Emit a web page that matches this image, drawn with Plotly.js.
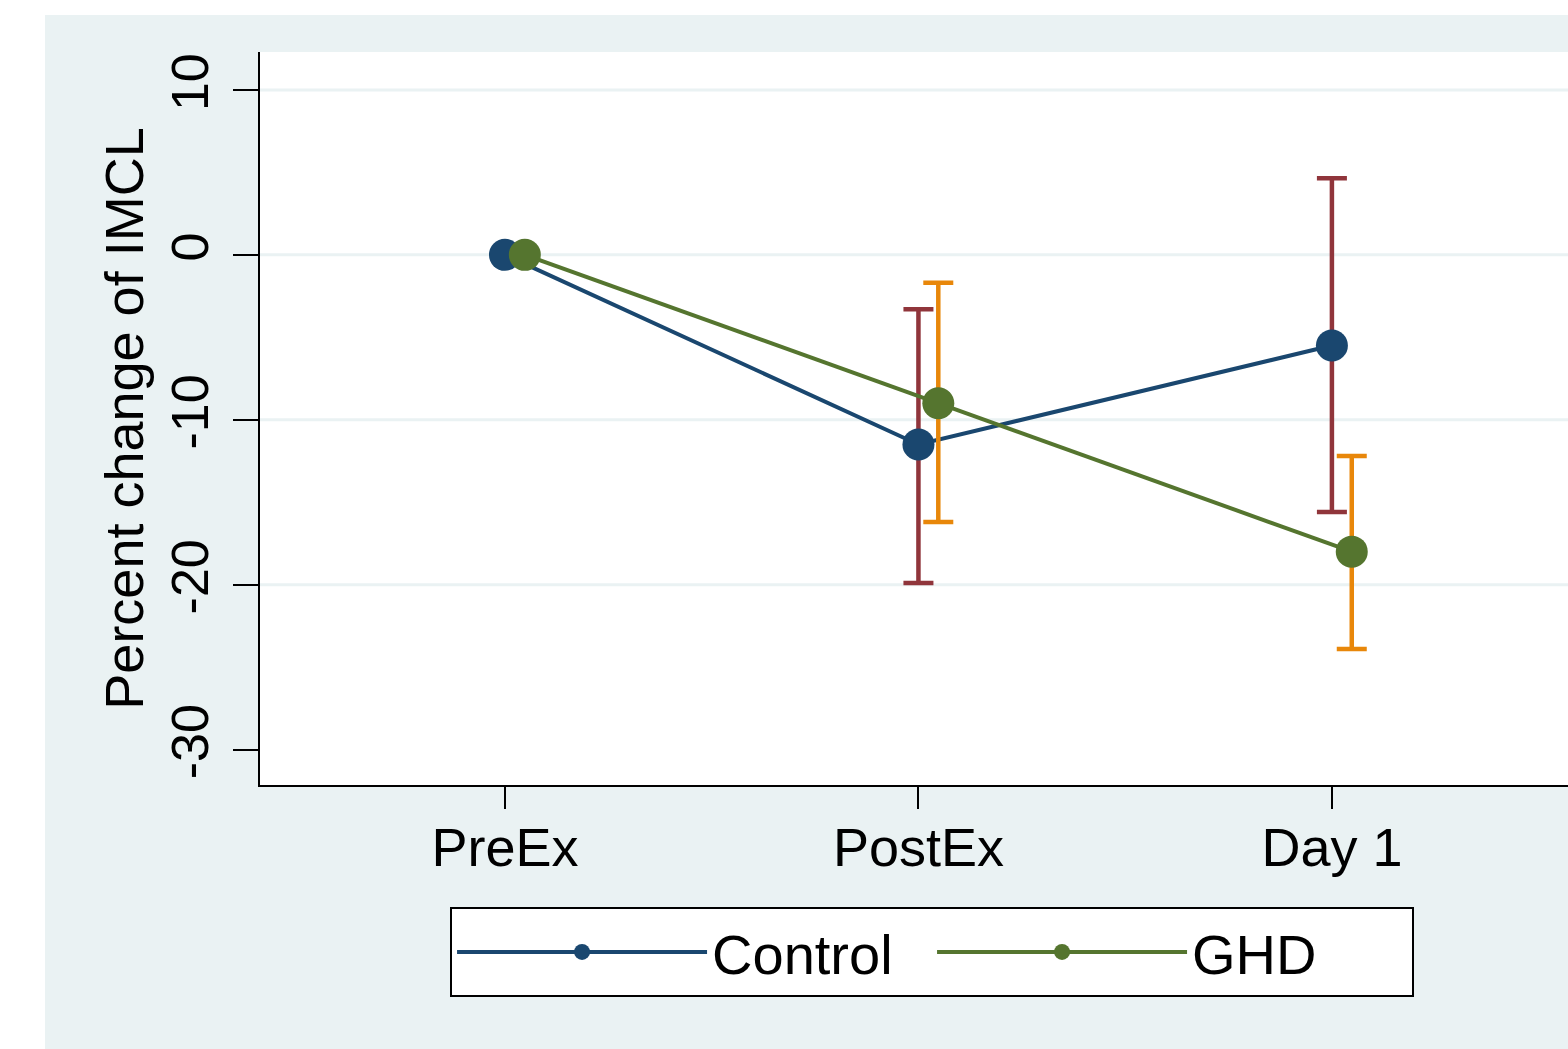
<!DOCTYPE html>
<html><head><meta charset="utf-8">
<script src="https://cdn.plot.ly/plotly-3.0.1.min.js"></script>
<style>
html,body{margin:0;padding:0;background:#ffffff;width:1568px;height:1049px;overflow:hidden;}
#chart{position:absolute;left:45px;top:15px;width:1523px;height:1034px;}
</style>
</head><body><div id="chart"></div>
<script>
// ---- data ----
const timepoints = ['PreEx', 'PostEx', 'Day 1'];
const seriesNames = ['Control', 'GHD'];
const controlMean = [0, -11.5, -5.5];
const controlErrUp = [null, 8.2, 10.15];
const controlErrDown = [null, 8.4, 10.1];
const ghdMean = [0, -9.0, -18.0];
const ghdErrUp = [null, 7.3, 5.8];
const ghdErrDown = [null, 7.2, 5.9];
const yTickVals = [-30, -20, -10, 0, 10];
const yTickText = ['-30', '-20', '-10', '0', '10'];
const yGridVals = [-20, -10, 0, 10];

// ---- styling ----
const FONT = 'Arial, "Liberation Sans", Helvetica, sans-serif';
const navy = '#1a476f', maroon = '#90353b', green = '#55752f', orange = '#e8870a';
const bg = '#eaf2f3';
const ghdShift = 0.048;
const xIdx = timepoints.map((_, i) => i);

const traces = [
  {
    type: 'scatter', mode: 'lines+markers', name: seriesNames[0],
    x: xIdx, y: controlMean,
    line: {color: navy, width: 4},
    marker: {color: navy, size: 32},
    error_y: {type: 'data', symmetric: false, array: controlErrUp, arrayminus: controlErrDown,
              color: maroon, thickness: 4.5, width: 15}
  },
  {
    type: 'scatter', mode: 'lines+markers', name: seriesNames[1],
    x: xIdx.map(v => v + ghdShift), y: ghdMean,
    line: {color: green, width: 4},
    marker: {color: green, size: 32},
    error_y: {type: 'data', symmetric: false, array: ghdErrUp, arrayminus: ghdErrDown,
              color: orange, thickness: 4.5, width: 15}
  }
];

const shapes = yGridVals.map(v => ({
  type: 'line', xref: 'paper', yref: 'y', x0: 0, x1: 1, y0: v, y1: v,
  line: {color: bg, width: 3}, layer: 'below'
}));

const layout = {
  width: 1523, height: 1034,
  margin: {l: 215, r: 0, t: 37, b: 264, pad: 0},
  paper_bgcolor: bg, plot_bgcolor: '#ffffff',
  font: {family: FONT, color: '#000000', size: 54},
  showlegend: true,
  xaxis: {
    range: [-0.5925, 2.571], tickvals: xIdx, ticktext: timepoints,
    showgrid: false, zeroline: false,
    showline: true, linecolor: '#000000', linewidth: 2,
    ticks: 'outside', ticklen: 22, tickwidth: 2, tickcolor: '#000000',
    ticklabelstandoff: -8,
    tickfont: {family: FONT, size: 54, color: '#000000'}
  },
  yaxis: {
    range: [-32.15, 12.3], tickvals: yTickVals, ticktext: yTickText, tickangle: -90,
    showgrid: false, zeroline: false,
    showline: true, linecolor: '#000000', linewidth: 2,
    ticks: 'outside', ticklen: 25, tickwidth: 2, tickcolor: '#000000',
    ticklabelstandoff: 4,
    tickfont: {family: FONT, size: 52, color: '#000000'},
    title: {text: 'Percent change of IMCL', font: {family: FONT, size: 54, color: '#000000'}, standoff: 0}
  },
  legend: {
    orientation: 'h', x: 0.1453, y: -0.1665, xanchor: 'left', yanchor: 'top',
    xref: 'paper', yref: 'paper',
    bgcolor: '#ffffff', bordercolor: '#000000', borderwidth: 2,
    font: {family: FONT, size: 56, color: '#000000'},
    itemwidth: 250, entrywidth: 215
  },
  shapes: shapes
};

Plotly.newPlot('chart', traces, layout, {displayModeBar: false, staticPlot: true});
</script>
</body></html>
